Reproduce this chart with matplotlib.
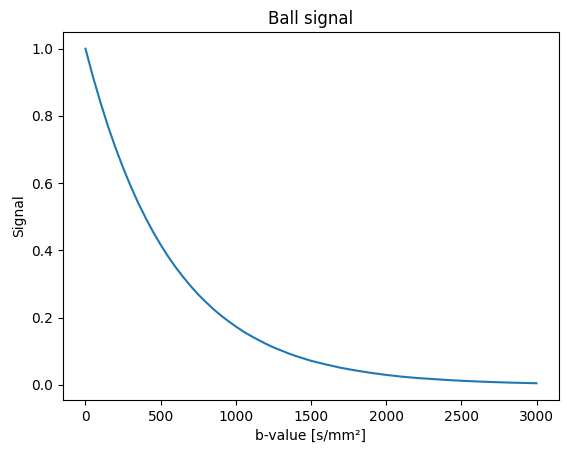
import numpy as np
import matplotlib
matplotlib.use("Agg")
import matplotlib.pyplot as plt

# b-values and signal
bvals = [0, 50, 100, 150, 200, 250, 300, 350, 400, 450, 500, 550, 600, 650, 700,
         750, 800, 850, 900, 950, 1000, 1050, 1100, 1150, 1200, 1250, 1300, 1350,
         1400, 1450, 1500, 1600, 1700, 1800, 1900, 2000,
         2100, 2200, 2300, 2400, 2500, 2600, 2700, 2800, 2900, 3000]
signal = [1.000, 0.916, 0.840, 0.769, 0.705, 0.646, 0.592, 0.542, 0.497, 0.455,
          0.417, 0.382, 0.350, 0.321, 0.294, 0.269, 0.247, 0.226, 0.207, 0.190,
          0.174, 0.159, 0.146, 0.134, 0.1225, 0.112, 0.103, 0.094, 0.086, 0.079,
          0.072, 0.061, 0.051, 0.043, 0.036, 0.030,
          0.025, 0.021, 0.018, 0.015, 0.0126, 0.0106, 0.0089, 0.0074, 0.0063, 0.0052]

fig, ax = plt.subplots(figsize=(5.67, 4.54), dpi=100)
fig.subplots_adjust(left=0.111, right=0.986, top=0.9295, bottom=0.119)
ax.plot(bvals, signal)
ax.set_xlabel('b-value [s/mm²]')
ax.set_ylabel('Signal')
ax.set_title('Ball signal')
fig.savefig('out.png', dpi=100)
